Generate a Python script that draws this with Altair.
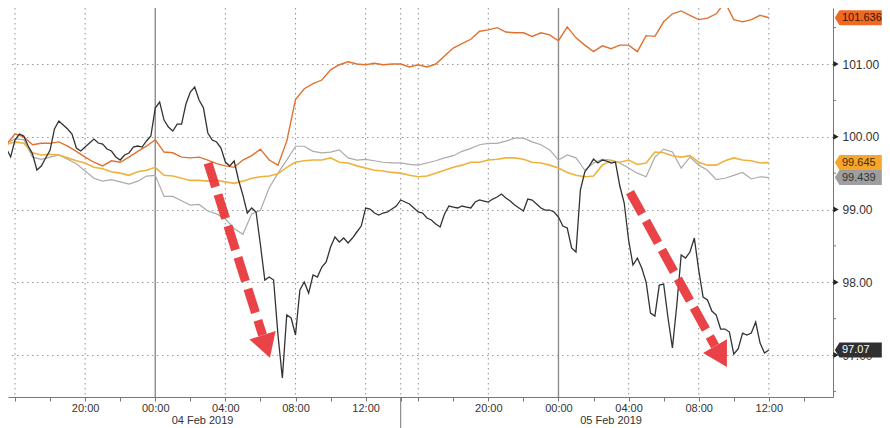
import altair as alt
import pandas as pd

# ---------------- data ----------------
# x = trading hours counted from 16:00 on 03 Feb 2019 (the 14:00-15:00 pause on 04 Feb is left out)
black_start, black_step = -0.5, 0.25
other_start, other_step = -0.5, 0.5

black = [
    99.845, 99.722,
    99.955, 100.038, 100.010, 99.873,
    99.763, 99.543, 99.598, 99.708,
    99.818, 100.107, 100.217, 100.162,
    100.107, 100.038, 99.845, 99.804,
    99.859, 99.914, 99.969, 99.914,
    99.900, 99.832, 99.804, 99.722,
    99.680, 99.749, 99.777, 99.859,
    99.873, 99.859, 99.942, 100.010,
    100.395, 100.478, 100.230, 100.134,
    100.079, 100.175, 100.175, 100.450,
    100.615, 100.684, 100.505, 100.395,
    100.052, 99.955, 99.928, 99.845,
    99.653, 99.598, 99.667, 99.406,
    99.199, 98.952, 99.021, 98.966,
    98.512, 98.031, 98.072, 98.031,
    97.275, 96.684, 97.550, 97.509,
    97.275, 97.893, 98.003, 97.852,
    98.100, 98.072, 98.210, 98.278,
    98.485, 98.622, 98.553, 98.608,
    98.540, 98.608, 98.691, 98.773,
    99.021, 99.007, 98.952, 98.924,
    98.952, 98.966, 99.007, 99.048,
    99.131, 99.103, 99.076, 99.021,
    98.966, 98.952, 98.883, 98.856,
    98.801, 98.759, 98.938, 99.048,
    99.034, 99.021, 99.048, 99.034,
    99.021, 99.103, 99.131, 99.117,
    99.103, 99.144, 99.172, 99.213,
    99.158, 99.117, 99.062, 99.021,
    98.979, 99.144, 99.131, 99.076,
    99.021, 98.993, 98.993, 98.966,
    98.897, 98.773, 98.746, 98.471,
    98.416, 99.268, 99.516, 99.598,
    99.694, 99.639, 99.680, 99.667,
    99.639, 99.653, 99.323, 99.089,
    98.581, 98.237, 98.333, 98.196,
    98.003, 97.577, 97.536, 97.962,
    97.976, 97.509, 97.097, 97.687,
    98.375, 98.333, 98.416, 98.608,
    98.168, 97.797, 97.756, 97.605,
    97.550, 97.357, 97.357, 97.316,
    97.014, 97.083, 97.302, 97.275,
    97.302, 97.453, 97.165, 97.028,
    97.070,
]

orange = [
    99.89,
    100.04, 100.00, 99.89, 99.91,
    99.91, 99.93, 99.87, 99.80,
    99.72, 99.65, 99.60, 99.67,
    99.65, 99.72, 99.80, 99.87,
    99.96, 99.79, 99.78, 99.72,
    99.71, 99.72, 99.68, 99.63,
    99.60, 99.58, 99.68, 99.74,
    99.83, 99.68, 99.61, 99.94,
    100.51, 100.66, 100.73, 100.78,
    100.92, 100.99, 101.03, 101.00,
    100.99, 101.01, 100.99, 101.00,
    101.00, 100.96, 100.99, 100.96,
    101.00, 101.11, 101.22, 101.28,
    101.34, 101.45, 101.47, 101.50,
    101.44, 101.43, 101.43, 101.38,
    101.43, 101.40, 101.32, 101.51,
    101.36, 101.26, 101.17, 101.25,
    101.21, 101.26, 101.26, 101.17,
    101.39, 101.38, 101.58, 101.69,
    101.73, 101.67, 101.61, 101.63,
    101.69, 101.85, 101.61, 101.58,
    101.61, 101.67,
    101.636,
]

gray = [
    99.91,
    99.97, 99.96, 99.72, 99.69,
    99.72, 99.75, 99.69, 99.63,
    99.53, 99.43, 99.39, 99.41,
    99.38, 99.35, 99.39, 99.46,
    99.47, 99.18, 99.18, 99.12,
    99.06, 99.07, 98.98, 98.94,
    98.87, 98.74, 98.66, 98.94,
    98.99, 99.30, 99.50, 99.68,
    99.87, 99.87, 99.80, 99.78,
    99.79, 99.82, 99.71, 99.68,
    99.69, 99.67, 99.65, 99.64,
    99.64, 99.62, 99.61, 99.64,
    99.67, 99.71, 99.74, 99.80,
    99.84, 99.89, 99.91, 99.91,
    99.94, 99.98, 99.98, 99.93,
    99.89, 99.82, 99.68, 99.75,
    99.71, 99.54, 99.64, 99.69,
    99.68, 99.64, 99.57, 99.50,
    99.45, 99.72, 99.83, 99.79,
    99.57, 99.72, 99.61, 99.54,
    99.41, 99.43, 99.47, 99.51,
    99.42, 99.45,
    99.439,
]

yellow = [
    99.89,
    99.93, 99.91, 99.78, 99.75,
    99.76, 99.75, 99.71, 99.67,
    99.64, 99.58, 99.56, 99.52,
    99.50, 99.47, 99.52, 99.54,
    99.58, 99.47, 99.46, 99.43,
    99.40, 99.40, 99.39, 99.40,
    99.38, 99.36, 99.39, 99.43,
    99.45, 99.46, 99.49, 99.58,
    99.65, 99.67, 99.68, 99.68,
    99.71, 99.65, 99.64, 99.60,
    99.57, 99.54, 99.53, 99.51,
    99.50, 99.47, 99.45, 99.46,
    99.50, 99.54, 99.58, 99.61,
    99.65, 99.65, 99.68, 99.69,
    99.71, 99.71, 99.69, 99.65,
    99.64, 99.61, 99.57, 99.51,
    99.47, 99.45, 99.46, 99.61,
    99.67, 99.65, 99.68, 99.62,
    99.64, 99.79, 99.78, 99.74,
    99.72, 99.74, 99.65, 99.61,
    99.61, 99.67, 99.71, 99.68,
    99.67, 99.64,
    99.645,
]

tick_hours = [0, 2, 4, 6, 8, 10, 12, 14, 16, 18, 20, 22,
              23, 25, 27, 29, 31, 33, 35, 37, 39, 41, 43, 45]
tick_label_hours = [4, 8, 12, 16, 20, 27, 31, 35, 39, 43]
tick_labels = ["20:00", "00:00", "04:00", "08:00", "12:00",
               "20:00", "00:00", "04:00", "08:00", "12:00"]

dotted_grid_hours = [0, 4, 12, 16, 20, 22, 23, 27, 35, 39, 43]
solid_grid_hours = [8, 31]
session_break_hours = [22]

date_labels = ["04 Feb 2019", "05 Feb 2019"]
date_label_hours = [10.7, 34.0]

y_ticks = [97, 98, 99, 100, 101]
y_minor = [96.5, 97.5, 98.5, 99.5, 100.5, 101.5]

series_names = ["gray", "yellow", "orange", "black"]
line_colors = ["#ABABAB", "#EEB23F", "#E2702E", "#333333"]
line_widths = [1.2, 1.6, 1.4, 1.3]
tag_colors = ["#9E9E9E", "#F6A62A", "#EE6A24", "#303030"]
tag_text_colors = ["#333333", "#4A2A00", "#3A1400", "#FFFFFF"]
last_labels = ["99.439", "99.645", "101.636", "97.07"]
last_values = [99.439, 99.645, 101.636, 97.07]

arrow_t1 = [11.01, 35.08]
arrow_v1 = [99.639, 99.240]
arrow_t2 = [14.12, 39.93]
arrow_v2 = [97.275, 97.124]
head_t = [14.33, 40.27]
head_v = [97.117, 96.979]
head_angle = [342, 330]

# ---------------- layout ----------------
W, H = 825, 389
FONT = "Liberation Sans"
RED = "#E8383D"

x_scale = alt.Scale(domain=[-0.4, 46.66], nice=False, zero=False)
y_scale = alt.Scale(domain=[96.423, 101.77], nice=False, zero=False)

label_expr = " : ".join(
    f"datum.value == {h} ? '{lab}'" for h, lab in zip(tick_label_hours, tick_labels)
) + " : ''"

x_axis = alt.Axis(values=tick_hours, labelExpr=label_expr, grid=False,
                  domainColor="#777777", tickColor="#777777", tickSize=4,
                  labelFontSize=11, labelColor="#333333", labelFont=FONT,
                  labelPadding=1, labelFlush=False, labelOverlap=False, title=None)
y_axis = alt.Axis(orient="right", values=y_ticks, format=".2f", grid=True,
                  gridColor="#9A9A9A", gridDash=[1.5, 3.5], gridWidth=1.1,
                  ticks=False, domainColor="#777777", labelFontSize=12,
                  labelColor="#333333", labelFont=FONT, labelPadding=9,
                  labelFlush=False, title=None)


def X(field="t"):
    return alt.X(f"{field}:Q", scale=x_scale, axis=x_axis)


def Y(field="v"):
    return alt.Y(f"{field}:Q", scale=y_scale, axis=y_axis)


series_data = {
    "black": (black_start, black_step, black),
    "orange": (other_start, other_step, orange),
    "gray": (other_start, other_step, gray),
    "yellow": (other_start, other_step, yellow),
}

line_layers = []
for name, col, sw in zip(series_names, line_colors, line_widths):
    start, step, vals = series_data[name]
    df = pd.DataFrame({"t": [start + step * i for i in range(len(vals))], "v": vals})
    line_layers.append(
        alt.Chart(df).mark_line(color=col, strokeWidth=sw, clip=True).encode(x=X(), y=Y())
    )

grid_dotted = alt.Chart(pd.DataFrame({"t": dotted_grid_hours})).mark_rule(
    color="#9A9A9A", strokeDash=[1.5, 3.5], strokeWidth=1.1).encode(x=X())
grid_solid = alt.Chart(pd.DataFrame({"t": solid_grid_hours})).mark_rule(
    color="#8C8C8C", strokeWidth=1.4).encode(x=X())
session_break = alt.Chart(pd.DataFrame({"t": session_break_hours})).mark_rule(
    color="#777777", strokeWidth=1).encode(x=X(), y=alt.value(H), y2=alt.value(H + 31))

dates = alt.Chart(pd.DataFrame({"t": date_label_hours, "label": date_labels})).mark_text(
    fontSize=11, font=FONT, color="#333333", align="center", baseline="alphabetic").encode(
    x=X(), y=alt.value(H + 27), text="label:N")

minor_ticks = alt.Chart(pd.DataFrame({"v": y_minor})).mark_rule(
    color="#777777", strokeWidth=1).encode(y=Y(), x=alt.value(W), x2=alt.value(W + 3))
major_marks = alt.Chart(pd.DataFrame({"v": y_ticks})).mark_point(
    shape="triangle-right", filled=True, size=36, color="#222222", opacity=1).encode(
    y=Y(), x=alt.value(W + 3))

arrows_df = pd.DataFrame({"t1": arrow_t1, "v1": arrow_v1, "t2": arrow_t2, "v2": arrow_v2})
shafts = alt.Chart(arrows_df).mark_rule(
    color=RED, strokeWidth=9, strokeDash=[25, 8], strokeCap="butt", opacity=0.95).encode(
    x=X("t1"), y=Y("v1"), x2="t2:Q", y2="v2:Q")
heads = alt.Chart(pd.DataFrame({"t": head_t, "v": head_v, "ang": head_angle})).mark_point(
    shape="triangle-down", filled=True, size=760, color=RED, opacity=0.95).encode(
    x=X(), y=Y(), angle=alt.Angle("ang:Q", scale=None))

TAG = "M-1,0L-0.8,-0.32L1,-0.32L1,0.32L-0.8,0.32Z"
tags_df = pd.DataFrame({"v": last_values, "label": last_labels,
                        "bg": tag_colors, "fg": tag_text_colors})
tag_shapes = alt.Chart(tags_df).mark_point(
    shape=TAG, size=2209, filled=True, opacity=1, strokeWidth=0).encode(
    y=Y(), x=alt.value(W + 25.3), color=alt.Color("bg:N", scale=None))
tag_texts = alt.Chart(tags_df).mark_text(
    align="left", baseline="middle", fontSize=11, font=FONT).encode(
    y=Y(), x=alt.value(W + 9), text="label:N", color=alt.Color("fg:N", scale=None))

chart = alt.layer(
    grid_dotted, grid_solid, *line_layers, shafts, heads,
    session_break, dates, minor_ticks, major_marks, tag_shapes, tag_texts,
).properties(
    width=W, height=H,
    autosize=alt.AutoSizeParams(type="none"),
    padding={"left": 0, "top": 0, "right": 49, "bottom": 31},
    background="white",
).configure(font=FONT).configure_view(stroke=None)

chart.save("out.html", embed_options={"renderer": "svg", "actions": False})
